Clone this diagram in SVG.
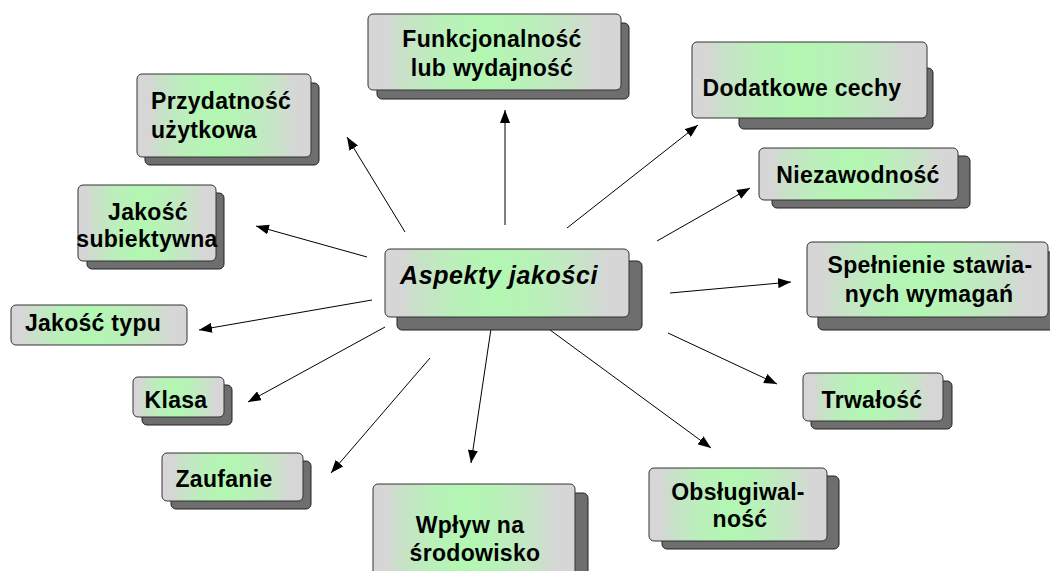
<svg xmlns="http://www.w3.org/2000/svg" width="1050" height="571" viewBox="0 0 1050 571">
<defs>
<linearGradient id="g" x1="0" y1="0" x2="1" y2="0">
<stop offset="0" stop-color="#d6d6d6"/>
<stop offset="0.07" stop-color="#d6d6d6"/>
<stop offset="0.12" stop-color="#cadfca"/>
<stop offset="0.28" stop-color="#bbefbb"/>
<stop offset="0.45" stop-color="#b2f7b2"/>
<stop offset="0.62" stop-color="#b9f1b9"/>
<stop offset="0.8" stop-color="#c8e3c8"/>
<stop offset="0.91" stop-color="#d6d6d6"/>
<stop offset="1" stop-color="#d6d6d6"/>
</linearGradient>
<marker id="ah" markerUnits="userSpaceOnUse" markerWidth="14" markerHeight="10" refX="13" refY="5" orient="auto">
<path d="M0,0 L13,5 L0,10 Z" fill="#000"/>
</marker>
</defs>
<style>
.sh{fill:#6e6e6e;stroke:#222;stroke-width:1}
.bx{fill:url(#g);stroke:#333;stroke-width:1}
.t{font-family:"Liberation Sans",Arial,sans-serif;font-weight:bold;font-size:23px;fill:#000;letter-spacing:0.3px}
.c{text-anchor:middle}
.m{font-style:italic;font-size:25px;letter-spacing:0.6px}
.ln{stroke:#000;stroke-width:1;fill:none;marker-end:url(#ah)}
</style>
<rect width="1050" height="571" fill="#fff"/>

<g id="connectors">
<line class="ln" x1="505" y1="225" x2="505" y2="110"/>
<line class="ln" x1="405" y1="232" x2="347" y2="137"/>
<line class="ln" x1="567" y1="228" x2="698" y2="125"/>
<line class="ln" x1="657" y1="241" x2="750" y2="188"/>
<line class="ln" x1="670" y1="293" x2="791" y2="282"/>
<line class="ln" x1="367" y1="257" x2="256" y2="226"/>
<line class="ln" x1="372" y1="300" x2="199" y2="330"/>
<line class="ln" x1="385" y1="327" x2="248" y2="402"/>
<line class="ln" x1="430" y1="358" x2="331" y2="473"/>
<line class="ln" x1="492" y1="322" x2="471" y2="463"/>
<line class="ln" x1="546" y1="327" x2="711" y2="448"/>
<line class="ln" x1="668" y1="333" x2="777" y2="384"/>
</g>

<g id="n-aspekty">
<rect class="sh" x="397" y="261" width="245" height="69" rx="5"/>
<rect class="bx" x="385" y="249" width="244" height="68" rx="5"/>
<text class="t m c" x="499" y="284">Aspekty jakości</text>
</g>

<g id="n-funkcjonalnosc">
<rect class="sh" x="377" y="23" width="252" height="76" rx="5"/>
<rect class="bx" x="368" y="14" width="253" height="76" rx="5"/>
<text class="t c" x="492" y="47">Funkcjonalność</text>
<text class="t c" x="492" y="76">lub wydajność</text>
</g>

<g id="n-przydatnosc">
<rect class="sh" x="145" y="83" width="174" height="82" rx="5"/>
<rect class="bx" x="137" y="74" width="174" height="83" rx="5"/>
<text class="t" x="151" y="109">Przydatność</text>
<text class="t" x="151" y="138">użytkowa</text>
</g>

<g id="n-subiektywna">
<rect class="sh" x="87" y="193" width="137" height="76" rx="5"/>
<rect class="bx" x="78" y="185" width="138" height="76" rx="5"/>
<text class="t c" x="148" y="220">Jakość</text>
<text class="t c" x="147" y="247">subiektywna</text>
</g>

<g id="n-typu">
<rect class="bx" x="11" y="305" width="176" height="40" rx="5"/>
<text class="t c" x="93" y="331">Jakość typu</text>
</g>

<g id="n-klasa">
<rect class="sh" x="142" y="385" width="90" height="40" rx="5"/>
<rect class="bx" x="133" y="377" width="91" height="40" rx="5"/>
<text class="t c" x="176" y="408">Klasa</text>
</g>

<g id="n-zaufanie">
<rect class="sh" x="171" y="461" width="140" height="48" rx="5"/>
<rect class="bx" x="162" y="453" width="141" height="48" rx="5"/>
<text class="t c" x="224" y="487">Zaufanie</text>
</g>

<g id="n-wplyw">
<rect class="sh" x="386" y="493" width="202" height="90" rx="5"/>
<rect class="bx" x="373" y="484" width="202" height="95" rx="5"/>
<text class="t c" x="470" y="533">Wpływ na</text>
<text class="t c" x="475" y="561">środowisko</text>
</g>

<g id="n-obslugiwalnosc">
<rect class="sh" x="662" y="476" width="177" height="73" rx="5"/>
<rect class="bx" x="649" y="468" width="178" height="73" rx="5"/>
<text class="t c" x="738" y="500">Obsługiwal-</text>
<text class="t c" x="740" y="527">ność</text>
</g>

<g id="n-trwalosc">
<rect class="sh" x="811" y="381" width="141" height="48" rx="5"/>
<rect class="bx" x="803" y="373" width="140" height="48" rx="5"/>
<text class="t c" x="872" y="408">Trwałość</text>
</g>

<g id="n-spelnienie">
<rect class="sh" x="818" y="252" width="245" height="78" rx="5"/>
<rect class="bx" x="807" y="242" width="241" height="75" rx="5"/>
<text class="t c" x="930" y="273">Spełnienie stawia-</text>
<text class="t c" x="929" y="302">nych wymagań</text>
</g>

<g id="n-niezawodnosc">
<rect class="sh" x="772" y="156" width="198" height="52" rx="5"/>
<rect class="bx" x="759" y="148" width="199" height="52" rx="5"/>
<text class="t c" x="858" y="183">Niezawodność</text>
</g>

<g id="n-dodatkowe">
<rect class="sh" x="739" y="68" width="194" height="61" rx="5"/>
<rect class="bx" x="692" y="42" width="235" height="76" rx="5"/>
<text class="t c" x="802" y="96">Dodatkowe cechy</text>
</g>
</svg>
